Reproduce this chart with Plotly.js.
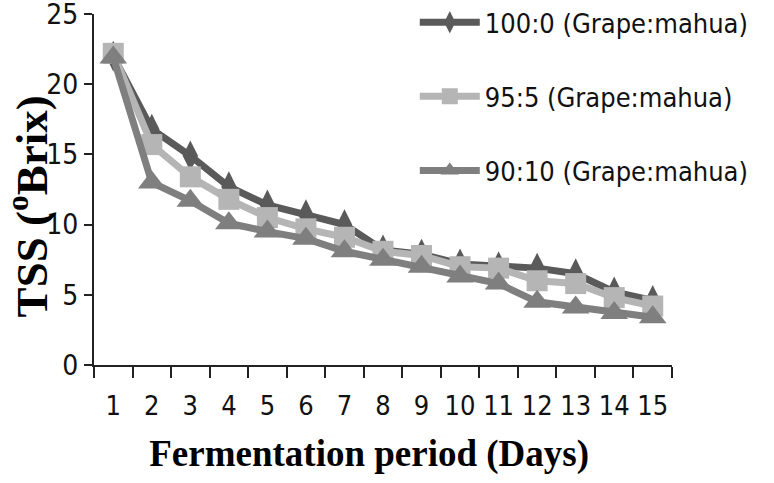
<!DOCTYPE html>
<html>
<head>
<meta charset="utf-8">
<script src="https://cdn.plot.ly/plotly-3.0.1.min.js"></script>
<style>html,body{margin:0;padding:0;background:#fff;}#chart{width:774px;height:483px;}</style>
</head>
<body>
<div id="chart"></div>
<script>
// Fermentation days (category labels)
var days = ['1','2','3','4','5','6','7','8','9','10','11','12','13','14','15'];
// TSS (°Brix) per treatment
var tss_100_0 = [22.0, 16.8, 14.9, 12.7, 11.4, 10.7, 10.0, 8.2, 7.9, 7.2, 7.0, 6.9, 6.5, 5.2, 4.6];
var tss_95_5  = [22.2, 15.7, 13.4, 11.8, 10.5, 9.7, 9.1, 8.1, 7.8, 7.0, 6.9, 6.0, 5.8, 4.8, 4.2];
var tss_90_10 = [21.9, 13.0, 11.7, 10.1, 9.5, 9.0, 8.1, 7.5, 7.0, 6.3, 5.8, 4.5, 4.1, 3.7, 3.4];
var seriesNames = ['100:0 (Grape:mahua)', '95:5 (Grape:mahua)', '90:10 (Grape:mahua)'];
var yTicks = [0, 5, 10, 15, 20, 25];

var sansFam = '"DejaVu Sans Condensed", "Liberation Sans", Arial, sans-serif';
var yTickFont = {family: sansFam, size: 28, color: '#111'};
var xTickFont = {family: sansFam, size: 27, color: '#111'};
var legendFont = {family: sansFam, size: 27, color: '#111'};
var serifFam = '"Liberation Serif", "Times New Roman", serif';

var traces = [
  {x: days, y: tss_100_0, name: seriesNames[0], legendgroup: 'a', type: 'scatter', mode: 'lines+markers',
   line: {color: '#5a5a5a', width: 7}, marker: {symbol: 'diamond-tall', size: 22, color: '#5a5a5a'}},
  {x: days, y: tss_95_5, name: seriesNames[1], legendgroup: 'b', type: 'scatter', mode: 'lines+markers',
   line: {color: '#b5b5b5', width: 7}, marker: {symbol: 'square', size: 21, color: '#b5b5b5'}},
  {x: days, y: tss_90_10, name: seriesNames[2], legendgroup: 'c', type: 'scatter', mode: 'lines+markers',
   line: {color: '#7f7f7f', width: 7}, marker: {symbol: 'triangle-up', size: 24, color: '#7f7f7f'}}
];

var layout = {
  width: 774, height: 483,
  margin: {l: 94, r: 102, t: 14, b: 118, autoexpand: false},
  paper_bgcolor: '#fff', plot_bgcolor: '#fff',
  showlegend: true,
  legend: {x: 0.555, xanchor: 'left', y: 1.045, yanchor: 'top', font: legendFont,
           traceorder: 'grouped', tracegroupgap: 36, itemwidth: 60, bgcolor: 'rgba(0,0,0,0)'},
  xaxis: {type: 'category', categoryorder: 'array', categoryarray: days, range: [-0.5, 14.5],
          tickson: 'boundaries', ticks: 'outside', ticklen: 11, tickwidth: 2, tickcolor: '#222',
          showline: true, linecolor: '#222', linewidth: 2, showgrid: false, zeroline: false,
          tickangle: 0, tickfont: xTickFont, ticklabelstandoff: 16, automargin: false,
          title: {text: 'Fermentation period (Days)&nbsp;&nbsp;&nbsp;', standoff: 20,
                  font: {family: serifFam, size: 37, color: '#000', weight: 'bold'}}},
  yaxis: {range: [0, 25], tickvals: yTicks, ticktext: yTicks.map(String),
          ticks: 'outside', ticklen: 8, tickwidth: 2, tickcolor: '#222',
          showline: true, linecolor: '#222', linewidth: 2, showgrid: false, zeroline: false,
          tickfont: yTickFont, ticklabeloverflow: 'allow', automargin: false,
          title: {text: 'TSS (<sup>o</sup>Brix)&nbsp;&nbsp;&nbsp;', standoff: 16,
                  font: {family: serifFam, size: 45, color: '#000', weight: 'bold'}}}
};

Plotly.newPlot('chart', traces, layout, {staticPlot: true, displayModeBar: false});
</script>
</body>
</html>
